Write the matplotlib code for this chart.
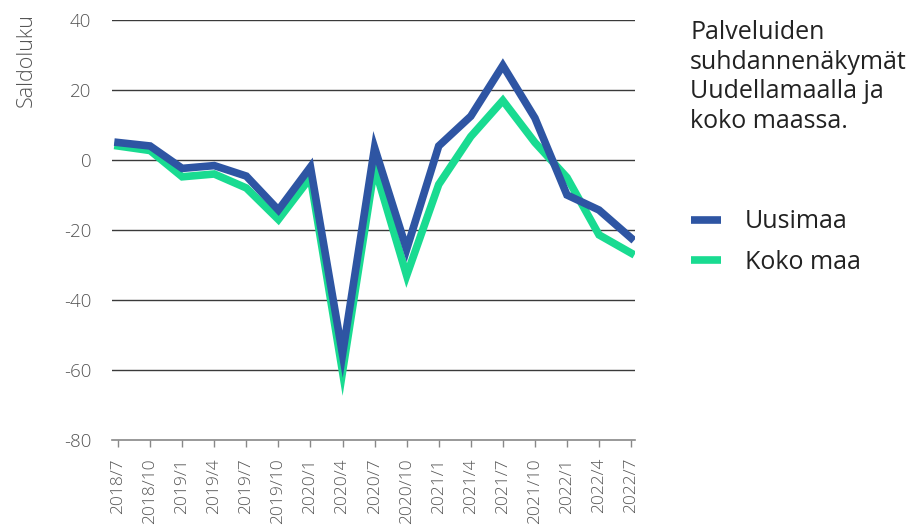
import matplotlib
matplotlib.use("Agg")
import matplotlib.pyplot as plt
from matplotlib.lines import Line2D

# Neljännesvuosittaiset saldoluvut
kaudet = ["2018/7", "2018/10", "2019/1", "2019/4", "2019/7", "2019/10",
          "2020/1", "2020/4", "2020/7", "2020/10", "2021/1", "2021/4",
          "2021/7", "2021/10", "2022/1", "2022/4", "2022/7"]
uusimaa = [5, 4, -2.4, -1.6, -4.6, -14.3, -2, -55.5, 3.5, -25.5, 4, 12.5,
           27, 12, -10, -14.3, -22.3]
koko_maa = [4, 2.7, -4.8, -4, -8, -17, -5, -60.5, -2, -33, -7, 6.7,
            17, 5, -5, -21.4, -26.6]
y_ticks = [-80, -60, -40, -20, 0, 20, 40]

SININEN = "#2E55A3"
VIHREA = "#19DB91"
HARMAA = "#555555"

plt.rcParams["font.family"] = ["Open Sans", "DejaVu Sans"]

fig = plt.figure(figsize=(9.14, 5.26), dpi=100)
ax = fig.add_axes([0.1225, 0.1635, 0.5722, 0.7985])

x = list(range(len(kaudet)))
ax.plot(x, koko_maa, color=VIHREA, lw=5.5, solid_joinstyle="miter", zorder=3)
ax.plot(x, uusimaa, color=SININEN, lw=5.5, solid_joinstyle="miter", zorder=4)

ax.set_ylim(-80, 40)
ax.set_xlim(-0.19, len(kaudet) - 1 + 0.12)
ax.set_yticks(y_ticks)
ax.set_yticklabels([str(v) for v in y_ticks])
ax.set_xticks(x)
ax.set_xticklabels(kaudet, rotation=90)

for v in y_ticks[1:]:
    ax.axhline(v, color="#3a3a3a", lw=1.0, zorder=1)

for side in ("top", "right", "left"):
    ax.spines[side].set_visible(False)
ax.spines["bottom"].set_color("#888888")
ax.spines["bottom"].set_linewidth(1.2)

ax.tick_params(axis="y", length=0, pad=15, labelsize=13.5, labelcolor=HARMAA)
ax.tick_params(axis="x", length=5, width=1, color="#888888", pad=8,
               labelsize=12.5, labelcolor=HARMAA)
for lbl in ax.get_xticklabels() + ax.get_yticklabels():
    lbl.set_fontweight("light")

fig.text(0.029, 0.975, "Saldoluku", rotation=90, ha="center", va="top",
         fontsize=15.5, color=HARMAA, fontweight="light")

fig.text(0.755, 0.962, "Palveluiden\nsuhdannenäkymät\nUudellamaalla ja\nkoko maassa.",
         ha="left", va="top", fontsize=18, color="#222222", linespacing=1.24)

kahvat = [Line2D([], [], color=SININEN, lw=5.5, solid_capstyle="butt"),
          Line2D([], [], color=VIHREA, lw=5.5, solid_capstyle="butt")]
leg = fig.legend(kahvat, ["Uusimaa", "Koko maa"], loc="upper left",
                 bbox_to_anchor=(0.7345, 0.64), frameon=False,
                 handlelength=1.2, handletextpad=0.95, labelspacing=0.62,
                 borderpad=0.3, prop={"size": 18})
for t in leg.get_texts():
    t.set_color("#222222")

fig.savefig("out.png", dpi=100)
